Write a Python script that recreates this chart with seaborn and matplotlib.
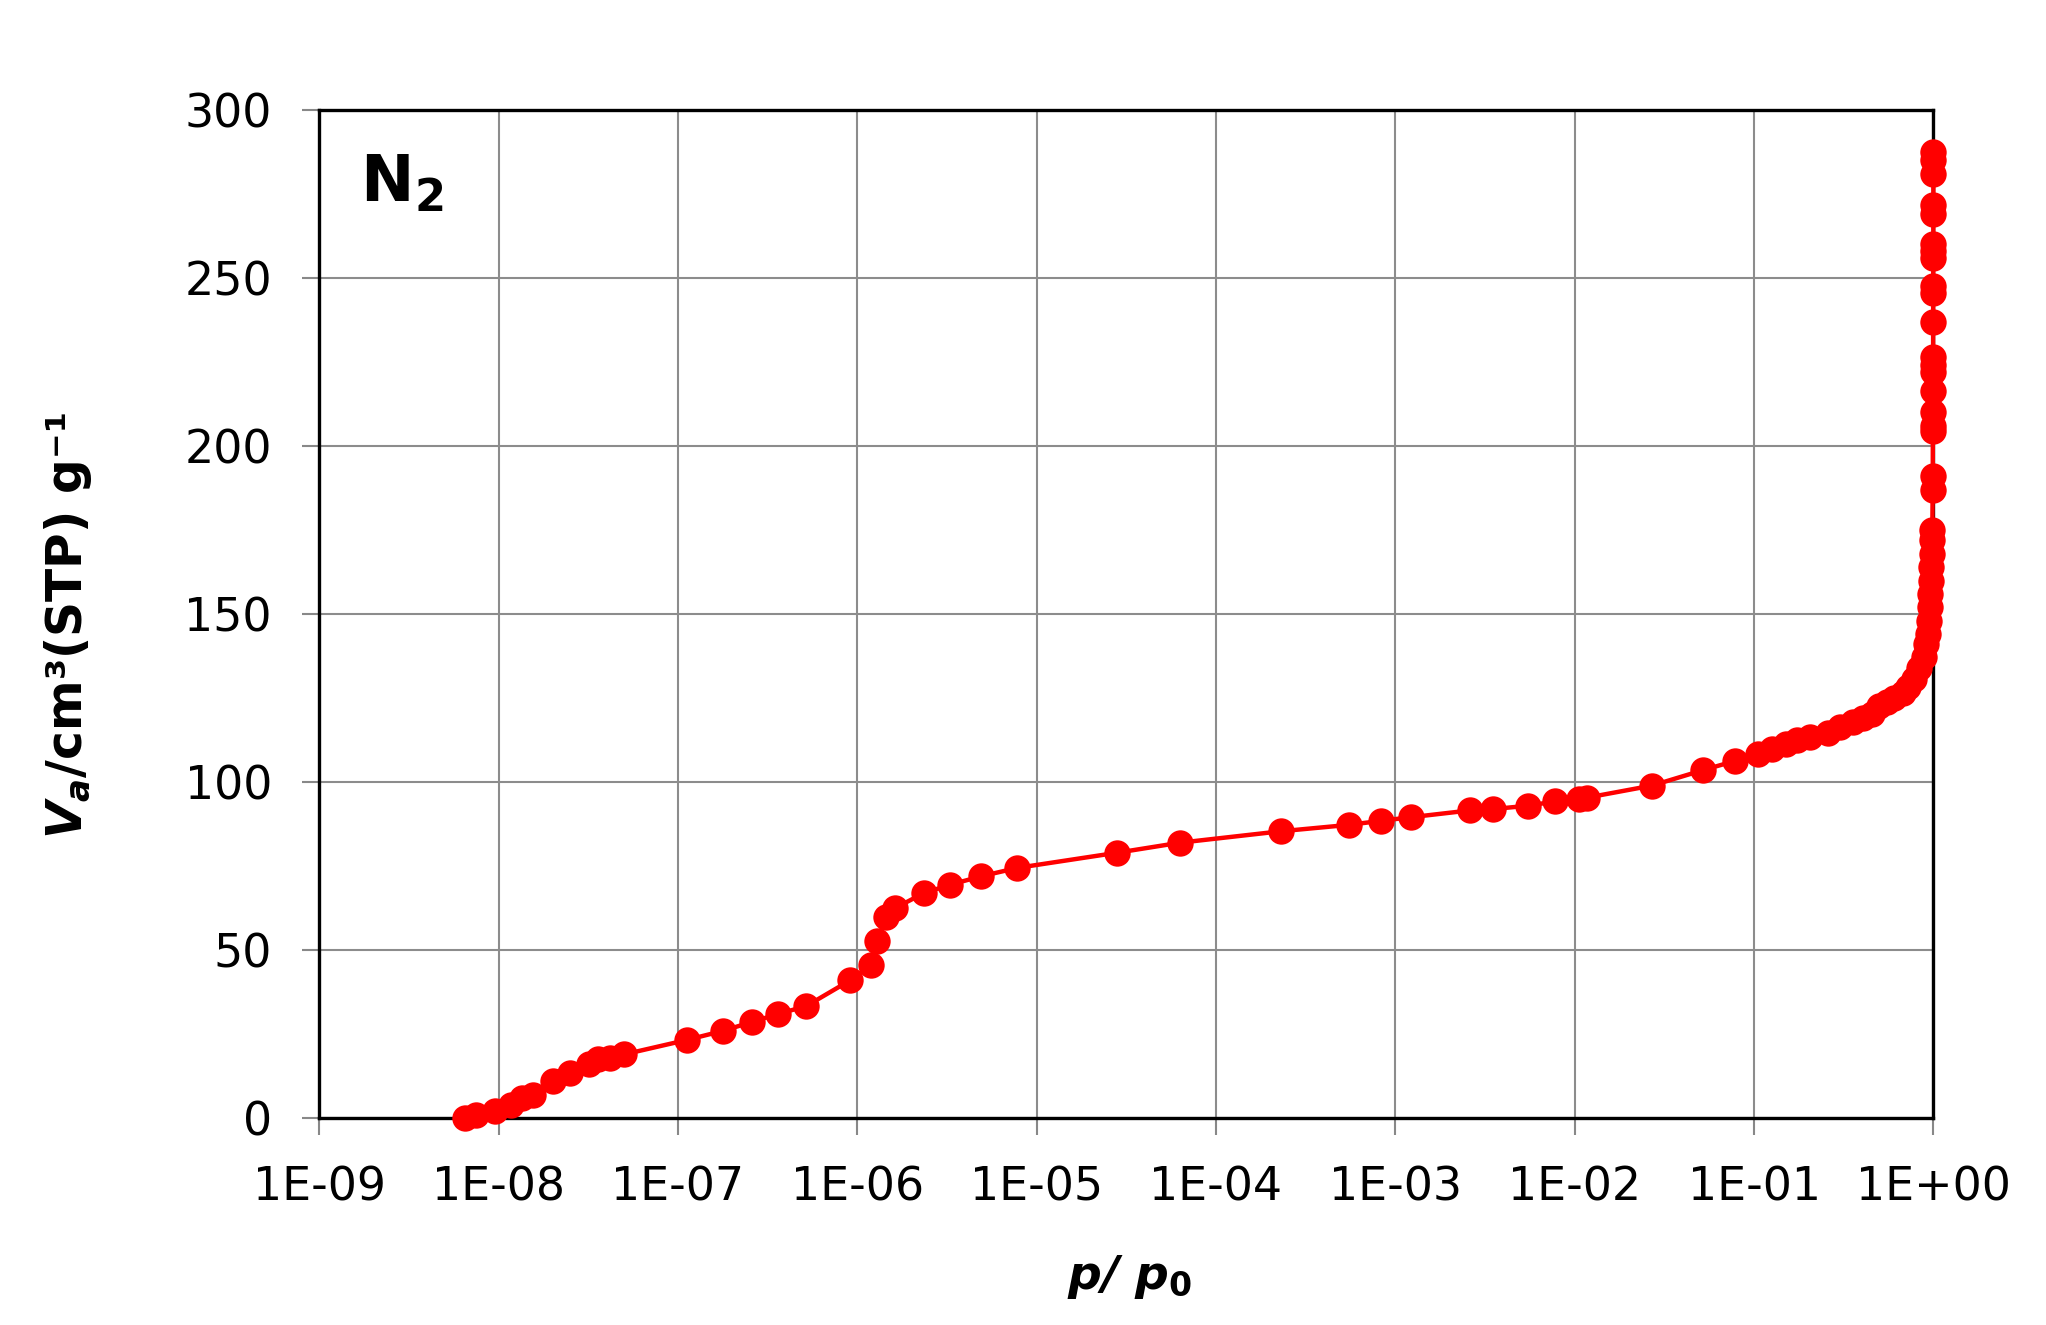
import numpy as np
import pandas as pd
import seaborn as sns
import matplotlib.pyplot as plt
from matplotlib.ticker import FixedLocator, NullLocator

# N2 isotherm
p_rel = [6.5e-9, 7.5e-9, 9.5e-9, 1.17e-8, 1.35e-8, 1.55e-8, 2.0e-8, 2.5e-8, 3.2e-8, 3.6e-8,
         4.2e-8, 5.0e-8, 1.12e-7, 1.78e-7, 2.6e-7, 3.6e-7, 5.2e-7, 9.1e-7, 1.2e-6, 1.29e-6,
         1.45e-6, 1.62e-6, 2.35e-6, 3.3e-6, 4.9e-6, 7.8e-6, 2.8e-5, 6.3e-5, 2.3e-4, 5.5e-4,
         8.3e-4, 1.23e-3, 2.6e-3, 3.5e-3, 5.5e-3, 7.8e-3, 1.05e-2, 1.17e-2, 2.7e-2, 5.2e-2,
         7.8e-2, 0.105, 0.126, 0.151, 0.174, 0.204, 0.257, 0.302, 0.355, 0.407,
         0.457, 0.50, 0.55, 0.60, 0.676, 0.72, 0.776, 0.83, 0.88, 0.91,
         0.93, 0.945, 0.955, 0.962, 0.968, 0.973, 0.977, 0.981, 0.985,
         0.990, 0.991, 0.992, 0.9925, 0.993, 0.994, 0.9942, 0.995, 0.9952, 0.996,
         0.9962, 0.997, 0.9972, 0.9974, 0.998, 0.9982, 0.9984, 0.999, 0.9992, 0.9995]
v_ads = [0, 1, 2.3, 4, 6, 7, 11, 13.5, 16.3, 17.5,
         18, 19, 23.3, 26, 28.7, 31, 33.4, 41, 45.7, 52.8,
         60, 62.5, 67, 69.5, 72, 74.5, 79, 82, 85.4, 87.3,
         88.5, 89.6, 91.6, 92, 93, 94.3, 95, 95.4, 99, 103.6,
         106.3, 108.3, 110, 111.4, 112.5, 113.3, 114.5, 116.4, 118, 119,
         120.3, 122.6, 123.8, 125, 126.5, 128.4, 130.8, 133.9, 137.3, 141,
         144, 148, 152, 156, 160, 164, 168, 172, 175,
         187, 191, 204.5, 206, 210, 216.5, 222, 224, 226.6, 237,
         245.6, 247.5, 256, 258, 260, 269, 271.6, 281, 285, 287.5]

x_ticks = [1e-9, 1e-8, 1e-7, 1e-6, 1e-5, 1e-4, 1e-3, 1e-2, 1e-1, 1e0]
x_labels = ["1E-09", "1E-08", "1E-07", "1E-06", "1E-05", "1E-04",
            "1E-03", "1E-02", "1E-01", "1E+00"]
y_ticks = [0, 50, 100, 150, 200, 250, 300]

df = pd.DataFrame({"p": p_rel, "V": v_ads})

sns.set_theme(style="white")
plt.rcParams["font.family"] = ["DejaVu Sans"]
plt.rcParams["text.color"] = "black"
plt.rcParams["mathtext.fontset"] = "custom"
plt.rcParams["mathtext.rm"] = "DejaVu Sans:bold"
plt.rcParams["mathtext.it"] = "DejaVu Sans:italic:bold"
plt.rcParams["mathtext.bf"] = "DejaVu Sans:bold"

fig = plt.figure(figsize=(20.46, 13.25), dpi=100)
ax = fig.add_axes([0.156, 0.156, 0.789, 0.761])

sns.lineplot(data=df, x="p", y="V", sort=False, estimator=None, color="#ff0000",
             marker="o", markersize=19, markeredgewidth=0, linewidth=3.2,
             clip_on=False, zorder=4, ax=ax)

ax.set_xscale("log")
ax.set_xlim(1e-9, 1)
ax.set_ylim(0, 300)
ax.xaxis.set_major_locator(FixedLocator(x_ticks))
ax.xaxis.set_minor_locator(NullLocator())
ax.set_xticklabels(x_labels)
ax.set_yticks(y_ticks)

ax.grid(True, color="#8c8c8c", linewidth=1.5)
for s in ax.spines.values():
    s.set_color("black")
    s.set_linewidth(2.4)

ax.tick_params(axis="both", which="major", length=12, width=1.5, color="#888888",
               labelsize=33, labelcolor="black", direction="out")
ax.tick_params(axis="x", pad=22)
ax.tick_params(axis="y", pad=22)
ax.tick_params(left=True, bottom=True)
ax.set_xlabel("")
ax.set_ylabel("")

ax.text(0.025, 0.958, r"N$_\mathbf{2}$", transform=ax.transAxes, fontsize=46,
        fontweight="bold", va="top", ha="left")

fig.text(0.033, 0.528, r"$\mathit{V_a}$/cm³(STP) g⁻¹", rotation=90,
         fontweight="bold", fontsize=35, ha="center", va="center")
fig.text(0.552, 0.036, r"$\mathit{p}$/ $\mathit{p}_\mathbf{0}$", fontweight="bold",
         fontstyle="italic", fontsize=34, ha="center", va="center")

fig.savefig("out.png", dpi=100)
